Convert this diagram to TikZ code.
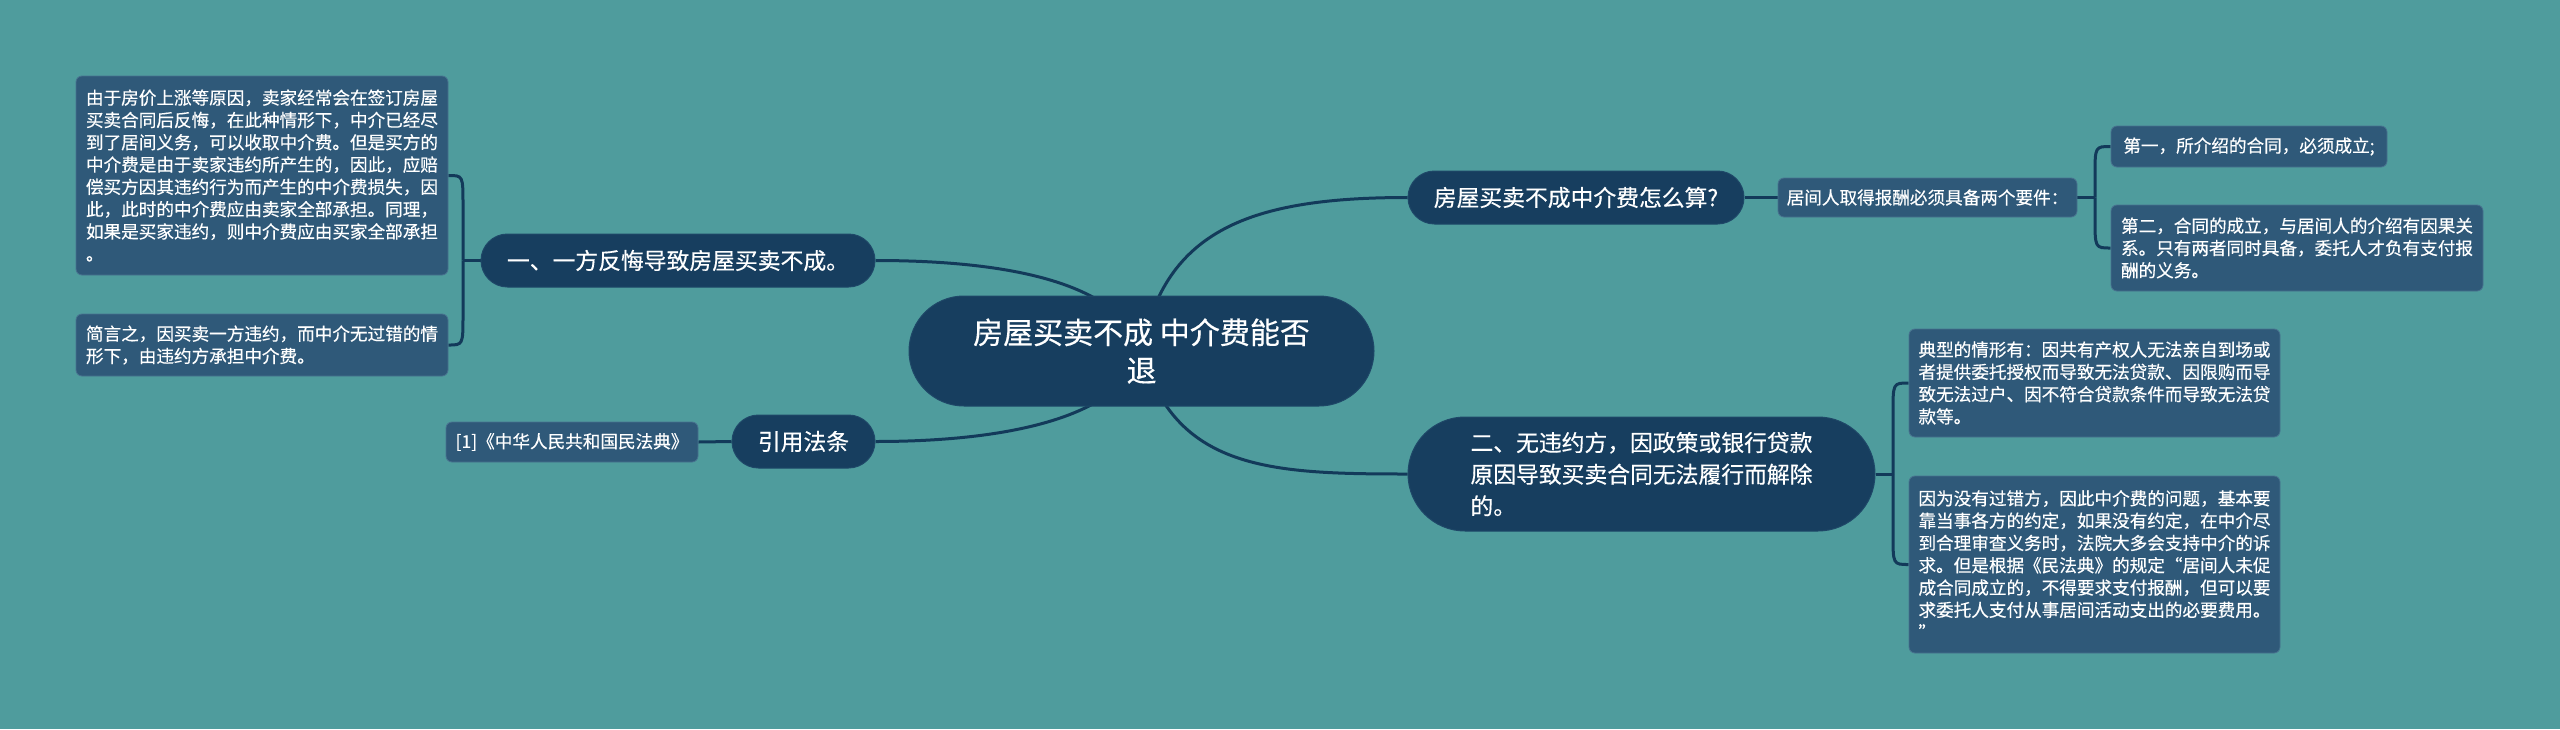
\documentclass[tikz,border=0pt]{standalone}
\usepackage{fontspec}
\newfontfamily\cjk[FakeBold=0.4]{Noto Sans CJK SC}
\definecolor{bgc}{HTML}{4F9C9D}
\definecolor{mainc}{HTML}{173E5F}
\definecolor{mainb}{HTML}{1F4868}
\definecolor{leafc}{HTML}{2F5979}
\definecolor{leafb}{HTML}{48728F}
\definecolor{linec}{HTML}{133A5A}
\pgfdeclarelayer{bg}
\pgfdeclarelayer{lines}
\pgfsetlayers{bg,lines,main}
\tikzset{
  leafnode/.style={fill=leafc, draw=leafb, line width=0.8pt, rounded corners=6pt,
    text=white, font=\cjk\fontsize{17.6}{22.3}\selectfont, align=left, inner sep=0pt},
  mainnode/.style={fill=mainc, draw=mainb, line width=1pt, text=white,
    font=\cjk\fontsize{22.8}{31.7}\selectfont, align=left, inner sep=0pt},
  rootnode/.style={fill=mainc, draw=mainb, line width=1pt, text=white,
    font=\cjk\fontsize{30}{38}\selectfont, align=center, inner sep=0pt},
  conn/.style={draw=linec, line width=3pt}
}
\begin{document}
\begin{tikzpicture}[x=1pt,y=-1pt]
\useasboundingbox (0,0) rectangle (2560,729);
\begin{pgfonlayer}{bg}
\fill[bgc] (0,0) rectangle (2560,729);
\end{pgfonlayer}

% root
\node[rootnode, minimum width=465pt, minimum height=110pt, rounded corners=55pt] (root) at (1141.5,351) {房屋买卖不成 中介费能否\\退};

% main branches
\node[mainnode, minimum width=336pt, minimum height=53pt, rounded corners=26.5pt] (q) at (1576,197.5) {房屋买卖不成中介费怎么算?};
\node[mainnode, minimum width=467pt, minimum height=114pt, rounded corners=57pt] (n2) at (1641.5,474) {二、无违约方，因政策或银行贷款\\原因导致买卖合同无法履行而解除\\的。};
\node[mainnode, minimum width=394pt, minimum height=53pt, rounded corners=26.5pt] (n1) at (678,260.5) {一、一方反悔导致房屋买卖不成。};
\node[mainnode, minimum width=143pt, minimum height=53pt, rounded corners=26.5pt] (cite) at (803.5,441.5) {引用法条};

% leaves
\node[leafnode, minimum width=252pt, minimum height=40pt] (lc) at (572,442) {[1]《中华人民共和国民法典》};
\node[leafnode, minimum width=372pt, minimum height=199pt] (l1) at (262,175.5) {由于房价上涨等原因，卖家经常会在签订房屋\\买卖合同后反悔，在此种情形下，中介已经尽\\到了居间义务，可以收取中介费。但是买方的\\中介费是由于卖家违约所产生的，因此，应赔\\偿买方因其违约行为而产生的中介费损失，因\\此，此时的中介费应由卖家全部承担。同理，\\如果是买家违约，则中介费应由买家全部承担\\。};
\node[leafnode, minimum width=372pt, minimum height=62pt] (l2) at (262,345) {简言之，因买卖一方违约，而中介无过错的情\\形下，由违约方承担中介费。};
\node[leafnode, minimum width=299pt, minimum height=39pt] (r0) at (1927.5,197.5) {居间人取得报酬必须具备两个要件：};
\node[leafnode, minimum width=276pt, minimum height=41pt] (r1) at (2249,146.5) {第一，所介绍的合同，必须成立;};
\node[leafnode, minimum width=372pt, minimum height=86pt] (r2) at (2297,248) {第二，合同的成立，与居间人的介绍有因果关\\系。只有两者同时具备，委托人才负有支付报\\酬的义务。};
\node[leafnode, minimum width=371pt, minimum height=108pt] (r3) at (2094.5,383) {典型的情形有：因共有产权人无法亲自到场或\\者提供委托授权而导致无法贷款、因限购而导\\致无法过户、因不符合贷款条件而导致无法贷\\款等。};
\node[leafnode, minimum width=371pt, minimum height=177pt] (r4) at (2094.5,564.5) {因为没有过错方，因此中介费的问题，基本要\\靠当事各方的约定，如果没有约定，在中介尽\\到合理审查义务时，法院大多会支持中介的诉\\求。但是根据《民法典》的规定“居间人未促\\成合同成立的，不得要求支付报酬，但可以要\\求委托人支付从事居间活动支出的必要费用。\\”};

% junctions
\coordinate (jr) at (2095,197.5);
\coordinate (jl) at (463,260.5);
\coordinate (jb) at (1893,474);

\begin{pgfonlayer}{lines}
\draw[conn] (root.center) .. controls (1165,230) and (1250,197.5) .. (q.west);
\draw[conn] (root.center) .. controls (1175,470) and (1270,474) .. (n2.west);
\draw[conn] (root.center) .. controls (1120,280) and (1000,260.5) .. (n1.east);
\draw[conn] (root.center) .. controls (1120,420) and (1000,441.5) .. (cite.east);
\draw[conn] (q.east) -- (r0.west);
\draw[conn] (r0.east) -- (jr);
\draw[conn] (jr) -- (2095,176) .. controls (2095,146.5) .. (r1.west);
\draw[conn] (jr) -- (2095,218) .. controls (2095,248) .. (r2.west);
\draw[conn] (n1.west) -- (jl);
\draw[conn] (jl) -- (463,205) .. controls (463,175.5) .. (l1.east);
\draw[conn] (jl) -- (463,315) .. controls (463,345) .. (l2.east);
\draw[conn] (n2.east) -- (jb);
\draw[conn] (jb) -- (1893,413) .. controls (1893,383) .. (r3.west);
\draw[conn] (jb) -- (1893,534) .. controls (1893,564.5) .. (r4.west);
\draw[conn] (cite.west) -- (lc.east);
\end{pgfonlayer}
\end{tikzpicture}
\end{document}
